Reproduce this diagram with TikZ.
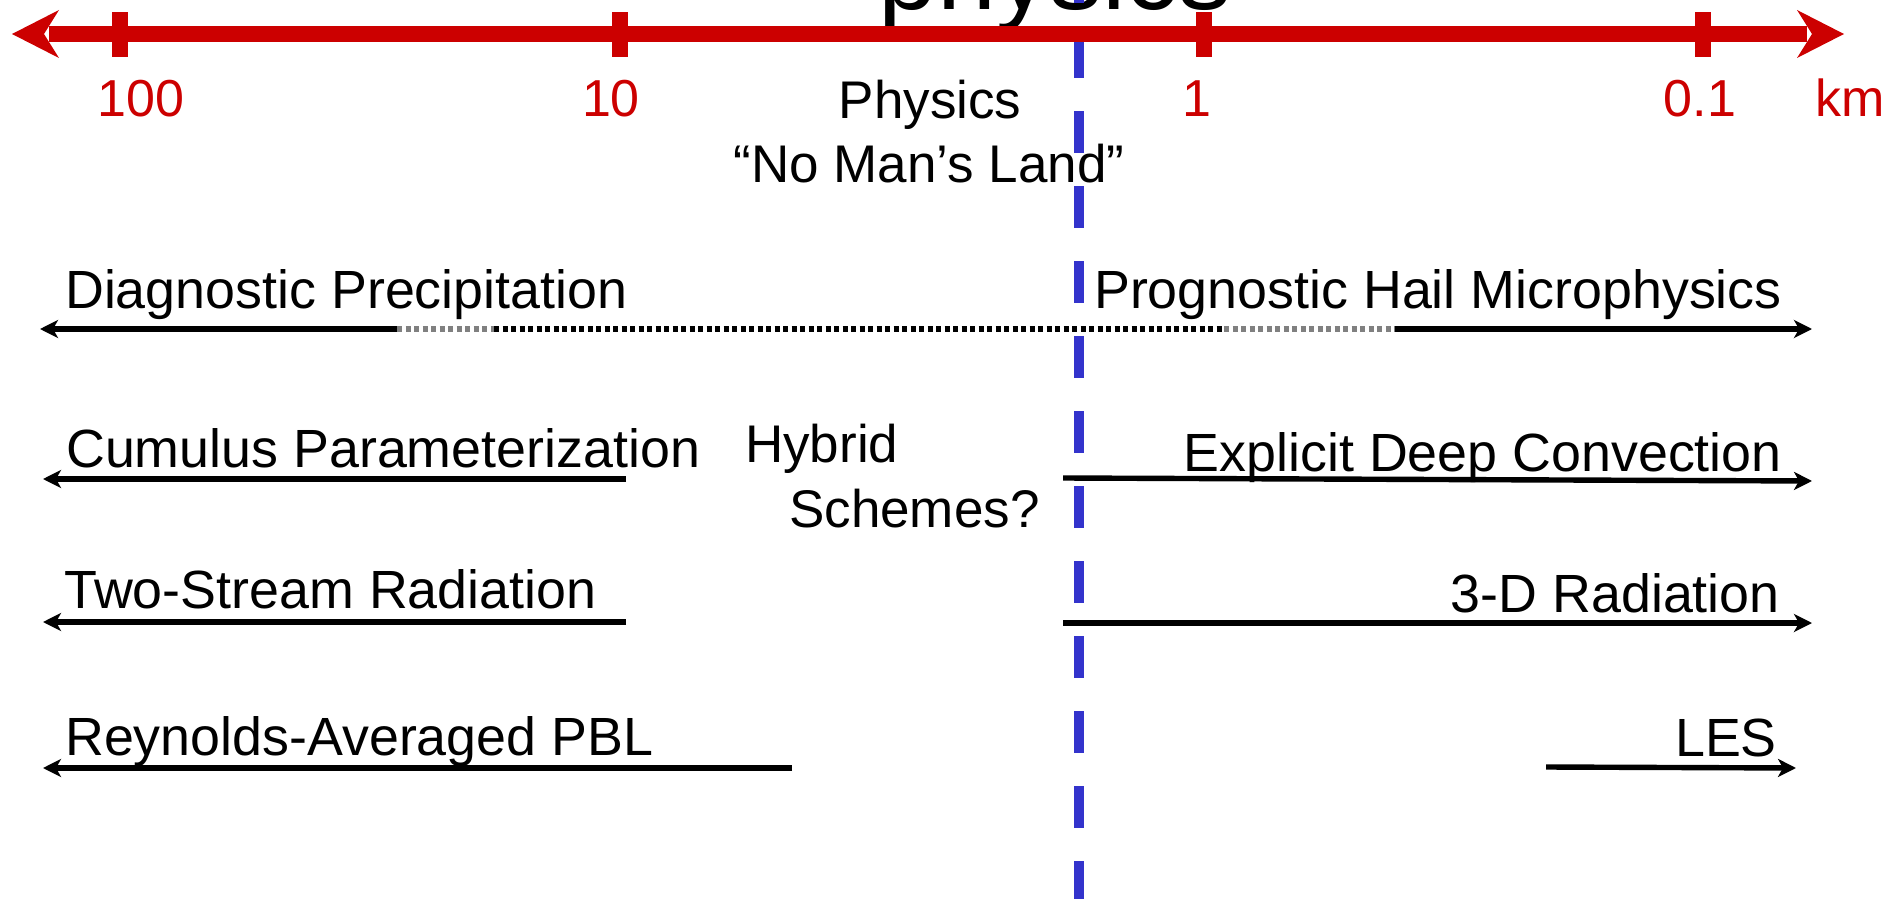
\documentclass[tikz,border=0pt]{standalone}
\usepackage{fontspec}
\setmainfont{Liberation Sans}
\usetikzlibrary{arrows.meta}
\definecolor{axisred}{HTML}{CC0000}
\definecolor{divblue}{HTML}{3333CC}

\begin{document}
\begin{tikzpicture}[x=1pt,y=-1pt,
  lbl/.style={inner sep=0pt, text=black, font=\fontsize{53.8}{60}\selectfont},
  midlbl/.style={inner sep=0pt, text=black, font=\fontsize{53}{60}\selectfont},
  scalelbl/.style={inner sep=0pt, anchor=base, text=axisred, font=\fontsize{52}{60}\selectfont},
  rangeline/.style={line width=5.4pt, black, -{Stealth[length=18pt,width=18pt,inset=5pt]}},
  dotline/.style={line width=5.4pt, dash pattern=on 5pt off 3.5pt},
  tickmark/.style={fill=axisred, draw=none},
]
\useasboundingbox (0,0) rectangle (1888,899);
\clip (0,0) rectangle (1888,899);

% heading word, mostly above the page
\node[inner sep=0pt, anchor=base, font=\fontsize{106}{110}\selectfont] (title) at (1055,10) {physics};

% gap labels
\node[midlbl, anchor=base] (phys) at (930,118) {Physics};
\node[midlbl, anchor=base] (nml) at (929,182) {“No Man’s Land”};
\node[midlbl, anchor=base west] (hyb) at (745,462) {Hybrid};
\node[midlbl, anchor=base west] (sch) at (789,527) {Schemes?};

% scheme labels
\node[lbl, anchor=base west] (diag) at (65,308) {Diagnostic Precipitation};
\node[lbl, anchor=base east] (prog) at (1782,308) {Prognostic Hail Microphysics};
\node[lbl, anchor=base west] (cumu) at (66,467) {Cumulus Parameterization};
\node[lbl, anchor=base east] (expl) at (1782,471) {Explicit Deep Convection};
\node[lbl, anchor=base west] (twos) at (64,608) {Two-Stream Radiation};
\node[lbl, anchor=base east] (thrd) at (1780,612) {3-D Radiation};
\node[lbl, anchor=base west] (reyn) at (65,755) {Reynolds-Averaged PBL};
\node[lbl, anchor=base east] (les) at (1777,756) {LES};

% dividing line between the two regimes
\draw[divblue, line width=10pt, dash pattern=on 42pt off 33pt] (1079,-39) coordinate (divtop) -- (1079,905) coordinate (divbot);

% range arrows
\coordinate (diagL) at (40,329);   \coordinate (diagS) at (397,329);
\coordinate (diagM1) at (494,329); \coordinate (diagM2) at (1224,329);
\coordinate (diagE) at (1395,329); \coordinate (diagR) at (1812,329);
\draw[rangeline] (diagS) -- (diagL);
\draw[rangeline] (diagE) -- (diagR);
\draw[dotline, black!50] (diagS) -- (diagM1);
\draw[dotline, black] (diagM1) -- (diagM2);
\draw[dotline, black!50] (diagM2) -- (diagE);

\coordinate (cumuS) at (626,479);  \coordinate (cumuL) at (43,479);
\coordinate (explS) at (1063,478); \coordinate (explR) at (1812,481);
\draw[rangeline] (cumuS) -- (cumuL);
\draw[rangeline] (explS) -- (explR);

\coordinate (twosS) at (626,622);  \coordinate (twosL) at (43,622);
\coordinate (thrdS) at (1063,623); \coordinate (thrdR) at (1812,623);
\draw[rangeline] (twosS) -- (twosL);
\draw[rangeline] (thrdS) -- (thrdR);

\coordinate (reynS) at (792,768);  \coordinate (reynL) at (43,768);
\coordinate (lesS) at (1546,767);  \coordinate (lesR) at (1796,768);
\draw[rangeline] (reynS) -- (reynL);
\draw[rangeline] (lesS) -- (lesR);

% grid-spacing axis
\fill[axisred] (49,26) rectangle (1807,42);
\fill[axisred] (12,34) -- (59,10) -- (44,34) -- (59,58) -- cycle;
\fill[axisred] (1844,34) -- (1797,10) -- (1812,34) -- (1797,58) -- cycle;
\foreach \tx in {120,620,1204,1703}
  \fill[tickmark] (\tx-8,12) rectangle (\tx+8,57);

\node[scalelbl] (s100) at (141,117) {100};
\node[scalelbl] (s10) at (611,117) {10};
\node[scalelbl] (s1) at (1197,117) {1};
\node[scalelbl] (s01) at (1700,117) {0.1};
\node[scalelbl] (skm) at (1850,117) {km};
\end{tikzpicture}
\end{document}
